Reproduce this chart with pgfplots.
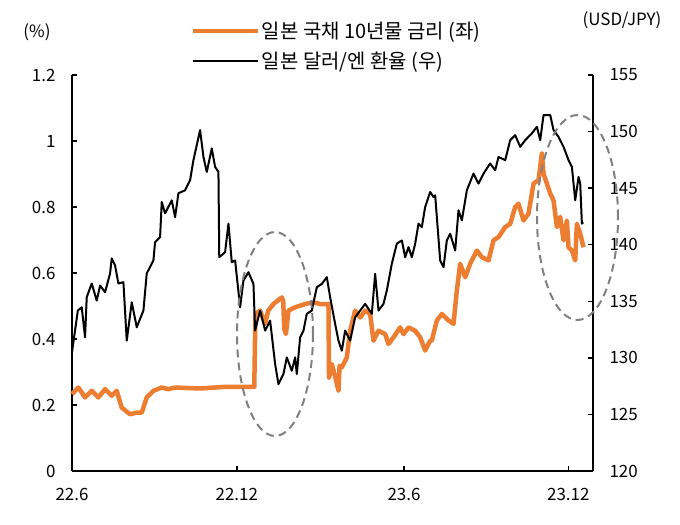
\documentclass[border=0pt]{standalone}
\usepackage{pgfplots}
\pgfplotsset{compat=1.18}
\usepackage{fontspec}
\setmainfont{Noto Sans CJK KR}
\definecolor{jgb}{RGB}{237,125,49}
\definecolor{ell}{RGB}{128,128,128}
\begin{document}
\begin{tikzpicture}[font=\fontsize{17}{20}\selectfont]
\useasboundingbox (-72bp,-54bp) rectangle (608bp,471bp);
\begin{axis}[
  at={(0,0)}, anchor=south west, scale only axis,
  width=521bp, height=396bp,
  xmin=0, xmax=18.75, ymin=0, ymax=1.2,
  axis x line*=bottom, axis y line*=left,
  xtick={0,5.93,11.95,17.86}, xticklabels={22.6,22.12,23.6,23.12},
  ytick={0,0.2,0.4,0.6,0.8,1,1.2},
  tick align=inside, major tick length=5bp,
  axis line style={line width=1.6bp,-}, tick style={line width=1.5bp,black},
  /pgf/number format/assume math mode=true,
  tick label style={font=\fontsize{17}{20}\selectfont},
  xticklabel style={yshift=-14bp},
  yticklabel style={xshift=-13bp},
  clip=false,
  legend style={at={(0.227,1.139)}, anchor=north west, draw=none, fill=none,
    font=\fontsize{20}{24}\selectfont, row sep=8bp, cells={anchor=west}, inner sep=0pt},
  legend image code/.code={\draw[#1] (0bp,0bp) -- (65bp,0bp);},
]
\addplot[jgb, line width=4.5bp, line join=round] coordinates {
(0,0.233) (0.23,0.253) (0.47,0.223) (0.71,0.243) (0.95,0.223) (1.19,0.248) (1.43,0.228) (1.61,0.243) (1.79,0.192) (2.09,0.172) (2.33,0.177) (2.51,0.177) (2.69,0.223) (2.93,0.243) (3.23,0.253) (3.47,0.248) (3.71,0.253) (4.61,0.250) (5.51,0.255) (6.56,0.255) (6.60,0.476) (6.77,0.486) (6.95,0.446) (7.06,0.486) (7.25,0.506) (7.55,0.526) (7.60,0.516) (7.64,0.430) (7.70,0.415) (7.79,0.486) (8.03,0.496) (8.39,0.506) (8.69,0.511) (8.93,0.506) (9.23,0.506) (9.25,0.283) (9.35,0.324) (9.47,0.286) (9.59,0.243) (9.63,0.319) (9.71,0.314) (9.89,0.344) (10.01,0.425) (10.19,0.486) (10.37,0.465) (10.55,0.486) (10.73,0.476) (10.85,0.395) (11.03,0.425) (11.27,0.415) (11.39,0.385) (11.57,0.405) (11.81,0.435) (11.93,0.415) (12.11,0.435) (12.35,0.425) (12.53,0.405) (12.71,0.365) (12.89,0.395) (12.95,0.395) (13.13,0.456) (13.31,0.476) (13.55,0.456) (13.73,0.446) (13.85,0.547) (13.97,0.628) (14.15,0.587) (14.33,0.628) (14.57,0.668) (14.75,0.648) (14.99,0.638) (15.17,0.699) (15.35,0.709) (15.59,0.739) (15.77,0.749) (15.95,0.800) (16.07,0.810) (16.25,0.759) (16.43,0.780) (16.61,0.871) (16.79,0.881) (16.91,0.962) (16.97,0.901) (17.09,0.871) (17.21,0.841) (17.33,0.820) (17.45,0.739) (17.57,0.770) (17.69,0.699) (17.81,0.759) (17.87,0.678) (17.99,0.668) (18.11,0.638) (18.17,0.749) (18.29,0.719) (18.41,0.678)
};
\addlegendentry{일본 국채 10년물 금리 (좌)}
\addlegendimage{black, line width=2bp}
\addlegendentry{일본 달러/엔 환율 (우)}
\end{axis}
\begin{axis}[
  at={(0,0)}, anchor=south west, scale only axis,
  width=521bp, height=396bp,
  xmin=0, xmax=18.75, ymin=120, ymax=155,
  axis y line*=right, axis x line=none,
  ytick={120,125,130,135,140,145,150,155},
  tick align=inside, major tick length=5bp,
  axis line style={line width=1.6bp,-}, tick style={line width=1.5bp,black},
  /pgf/number format/assume math mode=true,
  tick label style={font=\fontsize{17}{20}\selectfont},
  yticklabel style={xshift=13bp},
  clip=false,
]
\addplot[black, line width=2bp, line join=round] coordinates {
(0,130.5) (0.21,134.18) (0.35,134.47) (0.47,131.81) (0.53,135.36) (0.71,136.57) (0.89,135.06) (1.01,136.39) (1.19,135.80) (1.37,137.46) (1.43,138.79) (1.55,138.17) (1.67,136.57) (1.85,136.69) (1.97,131.52) (2.15,134.91) (2.33,132.70) (2.57,134.18) (2.69,137.46) (2.93,138.61) (2.99,140.23) (3.17,140.67) (3.23,143.77) (3.35,142.77) (3.59,143.92) (3.71,142.44) (3.83,144.55) (4.07,144.81) (4.25,145.70) (4.37,147.47) (4.61,150.13) (4.73,147.76) (4.85,146.43) (5.03,148.51) (5.15,146.88) (5.27,146.43) (5.30,138.90) (5.51,139.34) (5.63,141.86) (5.75,138.46) (5.87,138.61) (6.05,134.47) (6.17,136.84) (6.35,137.57) (6.53,136.54) (6.59,132.41) (6.77,134.18) (6.95,132.41) (7.13,133.29) (7.31,129.45) (7.43,127.68) (7.61,128.57) (7.73,130.04) (7.91,128.86) (8.03,130.04) (8.09,128.57) (8.21,131.81) (8.33,132.41) (8.45,133.89) (8.63,134.18) (8.81,136.24) (8.99,136.54) (9.17,137.13) (9.29,135.36) (9.47,133.00) (9.59,131.52) (9.71,130.63) (9.83,132.41) (10.01,131.52) (10.19,133.58) (10.37,134.18) (10.55,134.77) (10.79,133.89) (10.91,137.43) (11.03,134.18) (11.21,134.77) (11.33,135.95) (11.51,138.32) (11.69,140.09) (11.87,140.38) (11.99,138.90) (12.11,139.79) (12.23,138.90) (12.35,140.09) (12.47,141.86) (12.59,141.56) (12.71,143.33) (12.89,144.66) (13.01,144.22) (13.07,144.37) (13.25,138.61) (13.37,138.01) (13.49,140.38) (13.61,140.97) (13.79,139.49) (13.91,143.04) (14.03,142.15) (14.21,144.81) (14.45,146.29) (14.63,145.40) (14.81,146.29) (15.05,147.18) (15.23,146.58) (15.35,147.76) (15.59,147.47) (15.77,149.24) (15.95,149.68) (16.13,148.65) (16.31,149.24) (16.55,149.84) (16.73,150.42) (16.85,149.24) (16.97,151.46) (17.21,151.46) (17.33,150.13) (17.51,149.53) (17.69,148.65) (17.87,147.47) (17.99,146.88) (18.11,143.92) (18.23,145.99) (18.29,145.40) (18.35,141.86) (18.40,141.98)
};
\end{axis}
\draw[ell, line width=2bp, dash pattern=on 8bp off 5bp] (203bp,137bp) ellipse [x radius=38bp, y radius=102bp];
\draw[ell, line width=2bp, dash pattern=on 8bp off 5bp] (505.5bp,253.5bp) ellipse [x radius=40.5bp, y radius=102.5bp];
\node at (-35bp,439bp) {(\%)};
\node at (550bp,451bp) {(USD/JPY)};
\end{tikzpicture}
\end{document}
